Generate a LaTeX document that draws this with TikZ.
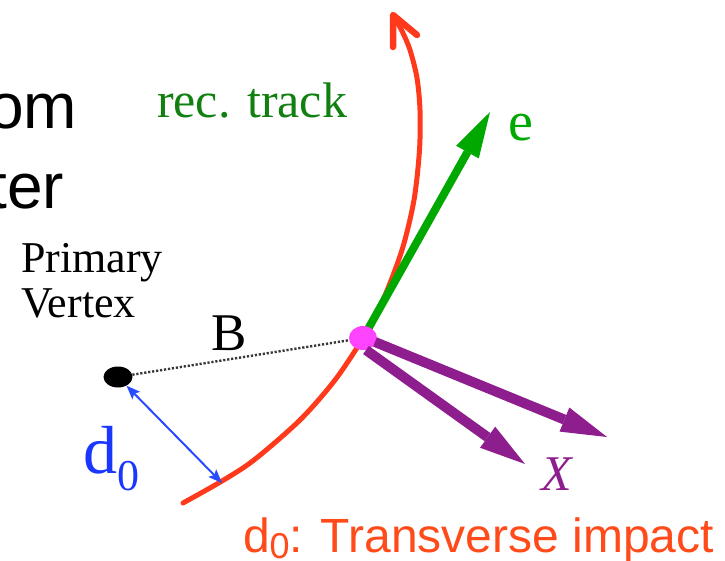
\documentclass[tikz,border=0pt]{standalone}
\usepackage{fontspec}
\setmainfont{Liberation Serif}
\newfontfamily\arialf{Liberation Sans}
\usetikzlibrary{arrows.meta,shapes.geometric}
\definecolor{trackred}{RGB}{255,58,28}
\definecolor{captred}{RGB}{255,74,26}
\definecolor{recgreen}{RGB}{17,128,17}
\definecolor{egreen}{RGB}{0,168,0}
\definecolor{xpurple}{RGB}{142,30,142}
\definecolor{dotmag}{RGB}{255,68,255}
\definecolor{dblue}{RGB}{25,55,255}
\definecolor{ablue}{RGB}{40,75,255}
\definecolor{dotgray}{RGB}{55,55,55}
\tikzset{
  track/.style={draw=trackred, line width=5pt, line cap=round},
  trackhead/.style={draw=trackred, line width=6.5pt, line cap=round, line join=round},
  greenarrow/.style={draw=egreen, line width=8pt, -{Triangle[length=46pt,width=26pt,line width=0pt]}},
  purplearrow/.style={draw=xpurple, fill=xpurple, line width=10pt, -{Triangle[length=46pt,width=26pt,line width=0pt]}},
  bluearrow/.style={draw=ablue, line width=2pt, {Stealth[length=14pt,width=11pt,inset=3pt,line width=0pt]}-{Stealth[length=14pt,width=11pt,inset=3pt,line width=0pt]}},
  dottedline/.style={draw=dotgray, line width=2.4pt, dash pattern=on 2.2pt off 1.8pt},
  txt/.style={inner sep=0pt, outer sep=0pt, anchor=base west},
  bigsans/.style={txt, anchor=base east, font=\arialf\fontsize{64}{64}\selectfont}
}
\begin{document}
\begin{tikzpicture}[x=1pt,y=-1pt]
\useasboundingbox (0,0) rectangle (725,560);

% coordinates
\coordinate (trk) at (222,483);
\coordinate (hitc) at (363,338);
\coordinate (etip) at (490,112);
\coordinate (xs1) at (375,342);
\coordinate (xt1) at (607,437);
\coordinate (xs2) at (366,350);
\coordinate (xt2) at (525,464);
\coordinate (ttip) at (393,15);
\coordinate (tarm1) at (393,47);
\coordinate (tarm2) at (417,35);

% reconstructed track (circular arc, curling at the top)
\draw[track] plot[smooth, tension=0.5] coordinates {(183,503) (222,481) (254,460) (300,420) (335,380) (363,338) (383,300) (402,250) (414,200) (419.5,150) (420,110) (417,78) (410,50) (402,31) (393,15)};
\draw[trackhead] (tarm2) -- (ttip) -- (tarm1);

% primary vertex
\node[ellipse, fill=black, minimum width=29pt, minimum height=21pt, inner sep=0pt] (pv) at (118,377) {};

% electron
\draw[greenarrow] (hitc) -- (etip);

% secondary vertex
\node[ellipse, fill=dotmag, minimum width=28pt, minimum height=24pt, inner sep=0pt] (hit) at (hitc) {};

% B flight line and d0
\draw[dottedline] (pv) -- (hit);
\draw[bluearrow] (pv) -- (trk);

% X products
\draw[purplearrow] (xs1) -- (xt1);
\draw[purplearrow] (xs2) -- (xt2);

% texts
\node[bigsans] (t1) at (77,128) {om};
\node[bigsans] (t2) at (64,208) {ter};
\node[txt, text=recgreen, font=\fontsize{50}{50}\selectfont] (rec) at (157,117) {rec. track};
\node[txt, text=egreen, font=\fontsize{56}{56}\selectfont] (elab) at (508,140) {e};
\node[txt, font=\fontsize{44}{44}\selectfont] (pv1) at (21,272) {Primary};
\node[txt, font=\fontsize{44}{44}\selectfont] (pv2) at (21,317) {Vertex};
\node[txt, font=\fontsize{53}{53}\selectfont] (blab) at (211,350) {B};
\node[txt, text=dblue, font=\fontsize{68}{68}\selectfont] (dlab) at (83,473) {d\raisebox{-17pt}{\fontsize{44}{44}\selectfont 0}};
\node[txt, text=xpurple, font=\itshape\fontsize{50}{50}\selectfont] (xlab) at (541,490) {X};
\node[txt, text=captred, font=\arialf\fontsize{48}{48}\selectfont] (cap) at (243,552) {d\raisebox{-6pt}{\fontsize{36}{36}\selectfont 0}: Transverse impact};
\end{tikzpicture}
\end{document}
